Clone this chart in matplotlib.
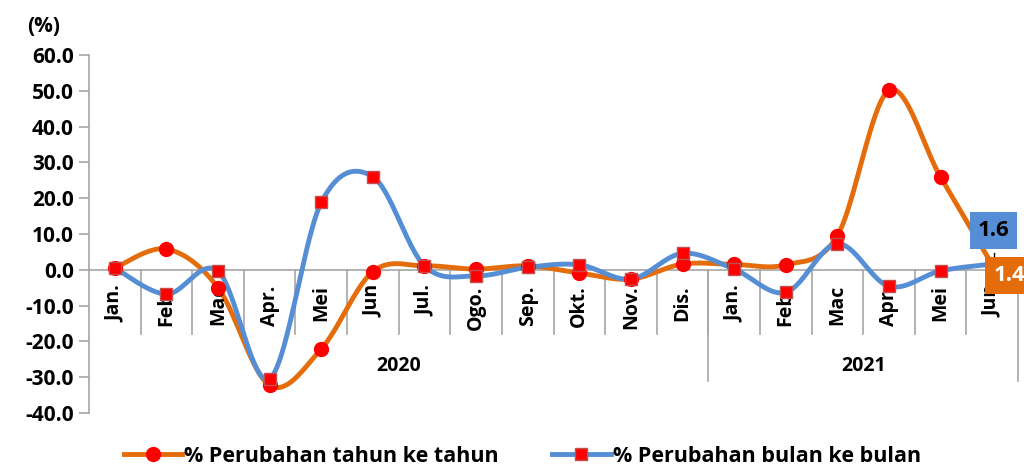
import numpy as np
import matplotlib
matplotlib.use("Agg")
import matplotlib.pyplot as plt
from matplotlib.lines import Line2D

plt.rcParams['font.family'] = ['Open Sans', 'DejaVu Sans']
plt.rcParams['font.weight'] = 'bold'

months = ["Jan.", "Feb.", "Mac", "Apr.", "Mei", "Jun", "Jul.", "Ogo.", "Sep.", "Okt.", "Nov.", "Dis.",
          "Jan.", "Feb.", "Mac", "Apr.", "Mei", "Jun"]
years = ["2020", "2021"]
year_counts = [12, 6]
yoy = [0.5, 5.8, -5.0, -32.3, -22.1, -0.5, 1.1, 0.2, 1.1, -0.9, -2.6, 1.6,
       1.5, 1.4, 9.5, 50.1, 25.9, 1.4]
mom = [0.5, -6.8, -0.4, -30.4, 18.8, 26.0, 1.1, -1.7, 0.7, 1.4, -2.6, 4.6,
       0.2, -6.3, 7.3, -4.6, -0.3, 1.6]
yoy_label = "% Perubahan tahun ke tahun"
mom_label = "% Perubahan bulan ke bulan"

ORANGE = "#E46C0A"
BLUE = "#558ED5"
RED = "#FF0000"
GREY = "#A6A6A6"


def smooth(x, y, n=40):
    x = np.asarray(x, float)
    y = np.asarray(y, float)
    P = np.column_stack([x, y])
    Pext = np.vstack([P[0], P, P[-1]])
    xs, ys = [], []
    for i in range(len(P) - 1):
        p0, p1, p2, p3 = Pext[i], Pext[i + 1], Pext[i + 2], Pext[i + 3]
        c1 = p1 + (p2 - p0) / 6.0
        c2 = p2 - (p3 - p1) / 6.0
        t = np.linspace(0, 1, n)[:, None]
        b = ((1 - t) ** 3) * p1 + 3 * ((1 - t) ** 2) * t * c1 + 3 * (1 - t) * t ** 2 * c2 + t ** 3 * p2
        xs.append(b[:, 0])
        ys.append(b[:, 1])
    return np.concatenate(xs), np.concatenate(ys)


fig = plt.figure(figsize=(10.24, 4.66), dpi=100)
ax = fig.add_axes([89 / 1024, 1 - 413 / 466, (1018 - 89) / 1024, (413 - 55) / 466])

x = np.arange(len(months))
sx, sy = smooth(x, yoy)
ax.plot(sx, sy, color=ORANGE, lw=3.5, solid_capstyle='round', zorder=2)
ax.plot(x, yoy, ls='none', marker='o', ms=10, mfc=RED, mec=RED, zorder=4)
sx, sy = smooth(x, mom)
ax.plot(sx, sy, color=BLUE, lw=3.5, solid_capstyle='round', zorder=3)
ax.plot(x, mom, ls='none', marker='s', ms=9, mfc=RED, mec="#C0504D", mew=1, zorder=6)

ax.set_xlim(-0.5, len(months) - 0.5)
ax.set_ylim(-40, 60)
ax.set_yticks(np.arange(-40, 61, 10))
ax.set_yticklabels([f"{v:.1f}" for v in np.arange(-40, 61, 10)], fontsize=15, fontweight='bold')
ax.tick_params(axis='y', direction='out', length=7, color=GREY, width=1.2, pad=4)
ax.set_xticks([])
for s in ['top', 'right', 'bottom']:
    ax.spines[s].set_visible(False)
ax.spines['left'].set_color(GREY)
ax.spines['left'].set_linewidth(1.2)
ax.axhline(0, color=GREY, lw=1.2, zorder=1)

# category separators
for i in range(1, len(months)):
    ax.plot([i - 0.5, i - 0.5], [0, -18], color=GREY, lw=1.2, clip_on=False, zorder=1)
# year separators
start = 0
bounds = [-0.5]
for c in year_counts:
    start += c
    bounds.append(start - 0.5)
for b in bounds[1:]:
    ax.plot([b, b], [0, -31], color=GREY, lw=1.2, clip_on=False, zorder=1)

for i, m in enumerate(months):
    ax.text(i, -4.3, m, rotation=90, ha='center', va='top', fontsize=14, fontweight='bold')

for k, yr in enumerate(years):
    cx = (bounds[k] + bounds[k + 1]) / 2
    ax.text(cx, -26.8, yr, ha='center', va='center', fontsize=14, fontweight='bold')

fig.text(44 / 1024, 1 - 27 / 466, "(%)", ha='center', va='center', fontsize=15, fontweight='bold')

# data labels for last point
ax.text(x[-1] + 0.03, 11.0, f"{mom[-1]:.1f}", ha='center', va='center', fontsize=16, fontweight='bold',
        color='black', bbox=dict(boxstyle='square,pad=0.35', fc=BLUE, ec='none'), zorder=8)
ax.text(x[-1] + 0.02, -1.6, f"{yoy[-1]:.1f}", ha='left', va='center', fontsize=16, fontweight='bold',
        color='white', bbox=dict(boxstyle='square,pad=0.35', fc=ORANGE, ec='none'), clip_on=False, zorder=8)
ax.plot([x[-1] + 0.03, x[-1] + 0.03], [4.8, 2.2], color='black', lw=1, zorder=7)

handles = [Line2D([0], [0], color=ORANGE, lw=3.5, marker='o', ms=10, mfc=RED, mec=RED),
           Line2D([0], [0], color=BLUE, lw=3.5, marker='s', ms=9, mfc=RED, mec="#C0504D")]
fig.legend(handles, [yoy_label, mom_label], loc='center', bbox_to_anchor=(0.51, 1 - 456 / 466),
           ncol=2, frameon=False, prop={'size': 15.5, 'weight': 'bold'}, handlelength=2.7,
           columnspacing=2.5, handletextpad=0.1)

fig.savefig("out.png", dpi=100)
